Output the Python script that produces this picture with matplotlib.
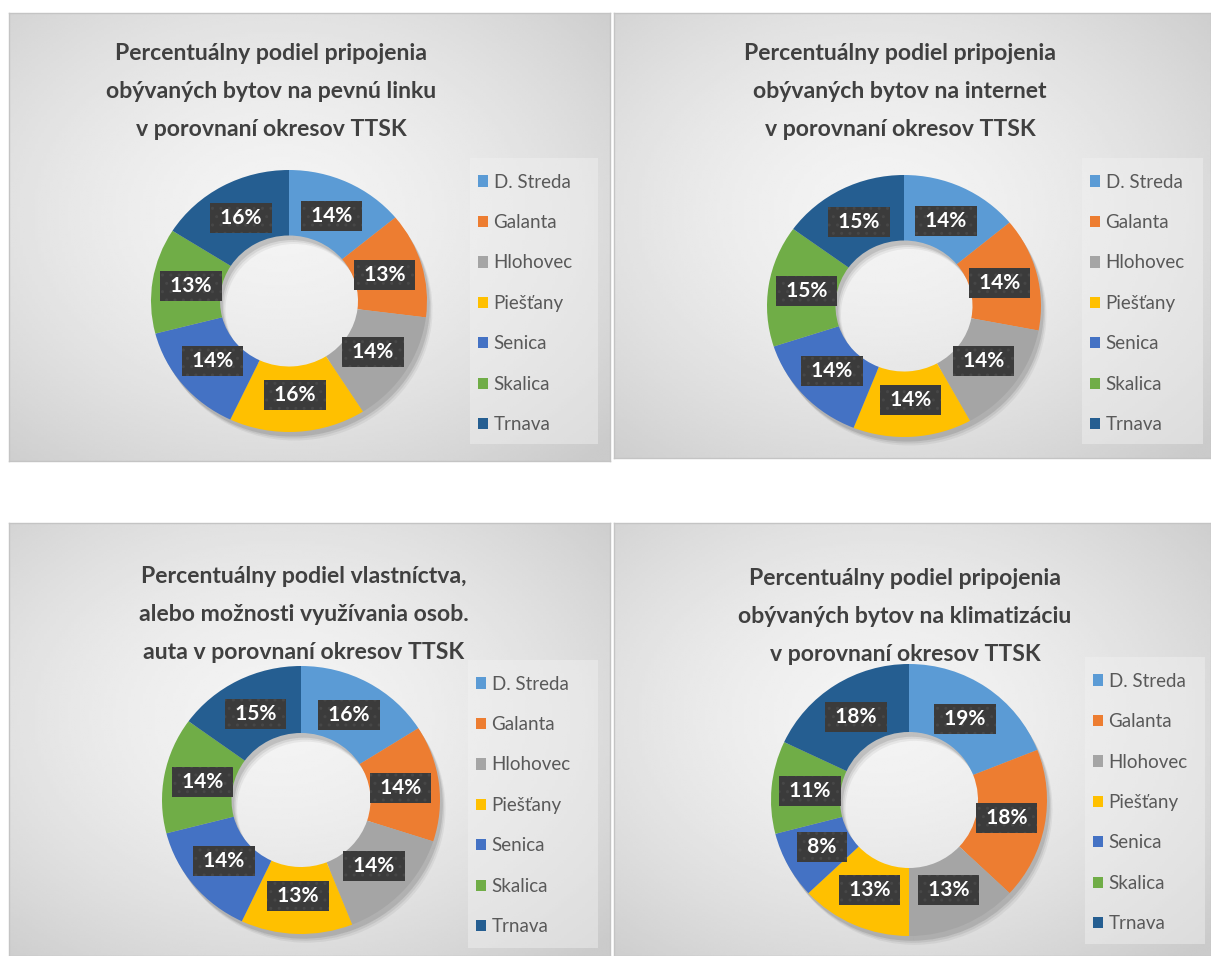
import numpy as np
import matplotlib
matplotlib.use("Agg")
import matplotlib.pyplot as plt
from matplotlib.patches import Rectangle

# ---------------- data ----------------
districts = ["D. Streda", "Galanta", "Hlohovec", "Piešťany", "Senica", "Skalica", "Trnava"]
landline_pct = [14, 13, 14, 16, 14, 13, 16]
internet_pct = [14, 14, 14, 14, 14, 15, 15]
car_pct = [16, 14, 14, 13, 14, 14, 15]
aircon_pct = [19, 18, 13, 13, 8, 11, 18]

title_landline = ["Percentuálny podiel pripojenia", "obývaných bytov na pevnú linku", "v porovnaní okresov TTSK"]
title_internet = ["Percentuálny podiel pripojenia", "obývaných bytov na internet", "v porovnaní okresov TTSK"]
title_car = ["Percentuálny podiel vlastníctva,", "alebo možnosti využívania osob.", "auta v porovnaní okresov TTSK"]
title_aircon = ["Percentuálny podiel pripojenia", "obývaných bytov na klimatizáciu", "v porovnaní okresov TTSK"]

colors = ["#5B9BD5", "#ED7D31", "#A5A5A5", "#FFC000", "#4472C4", "#70AD47", "#255E91"]

# ---------------- layout (pixels) ----------------
W, H = 1211, 956
fig = plt.figure(figsize=(W / 100, H / 100), dpi=100)
fig.patch.set_facecolor("white")


def frac(x, y, w, h):
    return [x / W, 1 - (y + h) / H, w / W, h / H]


panels = [
    dict(rect=(9, 13, 601, 448), center=(289, 301), RX=138, RY=131, tx=271, tbase=(60, 98, 136),
         legend=(470, 158, 128, 286), values=landline_pct, title=title_landline),
    dict(rect=(614, 13, 597, 445), center=(904, 306), RX=137, RY=131, tx=900, tbase=(60, 98, 136),
         legend=(1082, 158, 121, 286), values=internet_pct, title=title_internet),
    dict(rect=(9, 523, 601, 433), center=(301, 800), RX=139, RY=134, tx=304, tbase=(583, 621, 659),
         legend=(468, 660, 130, 288), values=car_pct, title=title_car),
    dict(rect=(614, 523, 597, 433), center=(909, 800), RX=138, RY=136, tx=905, tbase=(585, 623, 661),
         legend=(1085, 657, 120, 287), values=aircon_pct, title=title_aircon),
]

# radial gradient image for backgrounds
gy, gx = np.mgrid[0:1:200j, 0:1:200j]
rr = np.sqrt(((gx - 0.45) / 0.75) ** 2 + ((gy - 0.45) / 0.75) ** 2)
rr = np.clip(rr, 0, 1)
grad = 0.955 - 0.16 * rr ** 1.6

for p in panels:
    x, y, w, h = p["rect"]
    bg = fig.add_axes(frac(x, y, w, h))
    bg.imshow(grad, cmap="gray", vmin=0, vmax=1, extent=[0, 1, 0, 1], aspect="auto",
              interpolation="bilinear", origin="upper")
    bg.set_xlim(0, 1)
    bg.set_ylim(0, 1)
    bg.set_xticks([])
    bg.set_yticks([])
    for s in bg.spines.values():
        s.set_color("#c4c4c4")
        s.set_linewidth(1.0)

    # title
    for line, base in zip(p["title"], p["tbase"]):
        fig.text(p["tx"] / W, 1 - base / H, line, ha="center", va="baseline",
                 fontsize=16.6, fontweight="bold", color="#404040", family="Lato")

    # donut shadow + donut
    cx, cy = p["center"]
    RX, RY = p["RX"], p["RY"]
    ax = fig.add_axes(frac(cx - RX, cy - RY, 2 * RX, 2 * RY))
    ax.patch.set_alpha(0)
    for dx, dy, a in [(0.02, -0.035, 0.10), (0.03, -0.05, 0.07), (0.04, -0.065, 0.05)]:
        ax.pie(p["values"], colors=["#000000"] * len(p["values"]), startangle=90,
               counterclock=False, radius=1.0, center=(dx, dy),
               wedgeprops=dict(width=0.5, edgecolor="none", alpha=a))
    wedges, _, autotexts = ax.pie(
        p["values"], colors=colors, startangle=90, counterclock=False, radius=1.0,
        wedgeprops=dict(width=0.5, edgecolor="none"),
        autopct=lambda v: " %.0f%% " % v, pctdistance=0.72,
        textprops=dict(color="white", fontsize=15, fontweight="bold", family="Lato"))
    for t in autotexts:
        t.set_bbox(dict(boxstyle="square,pad=0.24", facecolor="#3b3b3b", edgecolor="#474747",
                        linewidth=0, hatch=".."))
    ax.set_xlim(-1, 1)
    ax.set_ylim(-1, 1)
    ax.set_aspect("auto")
    ax.axis("off")

    # legend
    lx, ly, lw, lh = p["legend"]
    fig.patches.append(Rectangle((lx / W, 1 - (ly + lh) / H), lw / W, lh / H,
                                 transform=fig.transFigure, facecolor="#f2f2f2",
                                 edgecolor="none", alpha=0.45, zorder=1))
    fig.legend(wedges, districts, loc="upper left",
               bbox_to_anchor=((lx + 2) / W, 1 - (ly + 10) / H),
               frameon=False, prop=dict(family="Lato", size=13.5),
               labelcolor="#595959", handlelength=0.55, handleheight=0.55,
               handletextpad=0.3, labelspacing=1.25, borderpad=0.3,
               borderaxespad=0)

fig.savefig("out.png", dpi=100)
